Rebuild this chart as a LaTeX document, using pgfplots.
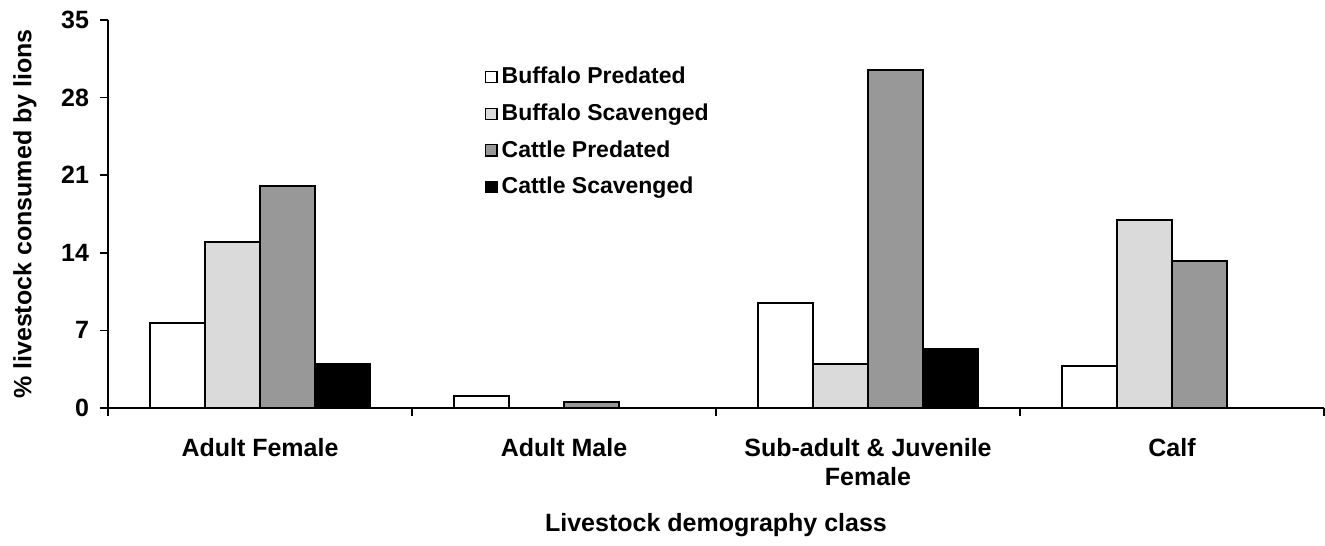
\documentclass[border=0pt]{standalone}
\usepackage{fontspec}
\setmainfont{Liberation Sans}
\usepackage{pgfplots}
\pgfplotsset{compat=1.18}
\definecolor{lightg}{RGB}{218,218,218}
\definecolor{midg}{RGB}{152,152,152}
\begin{document}
\begin{tikzpicture}
\useasboundingbox (0,0) rectangle (662.5pt,272.5pt);
\begin{axis}[
  at={(54pt,68.5pt)}, anchor=south west,
  scale only axis, width=608pt, height=194pt,
  ybar=0pt, bar width=27.5pt,
  xmin=-0.5, xmax=3.5, ymin=0, ymax=35,
  axis x line=bottom, axis y line=left,
  axis line style={line width=0.8pt, -},
  ytick={0,7,14,21,28,35},
  xtick={-0.5,0.5,1.5,2.5,3.5},
  xticklabels={},
  extra x ticks={0,1,2,3},
  extra x tick labels={Adult Female,Adult Male,{Sub-adult \& Juvenile\\Female},Calf},
  extra x tick style={major tick length=0pt},
  tick style={line width=0.8pt, black},
  tick align=outside, major tick length=4pt,
  /pgf/number format/assume math mode=true,
  ticklabel style={font=\fontsize{12.5}{14.5}\selectfont\bfseries},
  yticklabel style={xshift=-2pt},
  xticklabel style={align=center, yshift=-11.5pt},
  ylabel={\% livestock consumed by lions},
  xlabel={Livestock demography class},
  label style={font=\fontsize{12.5}{14.5}\selectfont\bfseries},
  ylabel style={at={(axis description cs:0,0.5)}, anchor=center, yshift=41.5pt},
  xlabel style={at={(axis description cs:0.5,0)}, anchor=center, yshift=-58.5pt},
  legend style={at={(0.305,0.9)}, anchor=north west, draw=none, fill=none,
    font=\fontsize{11.5}{13}\selectfont\bfseries, row sep=4.5pt,
    legend cell align=left},
  legend image code/.code={\draw[#1, line width=0.6pt] (0pt,-2.8pt) rectangle (5.6pt,2.8pt);},
  every axis plot/.append style={draw=black, line width=1pt},
]
\addplot[fill=white] coordinates {(0,7.7) (1,1.1) (2,9.5) (3,3.8)};
\addplot[fill=lightg] coordinates {(0,15.0) (1,0) (2,4.0) (3,17.0)};
\addplot[fill=midg] coordinates {(0,20.0) (1,0.5) (2,30.5) (3,13.3)};
\addplot[fill=black] coordinates {(0,4.0) (1,0) (2,5.3) (3,0)};
\legend{Buffalo Predated,Buffalo Scavenged,Cattle Predated,Cattle Scavenged}
\end{axis}
\end{tikzpicture}
\end{document}
